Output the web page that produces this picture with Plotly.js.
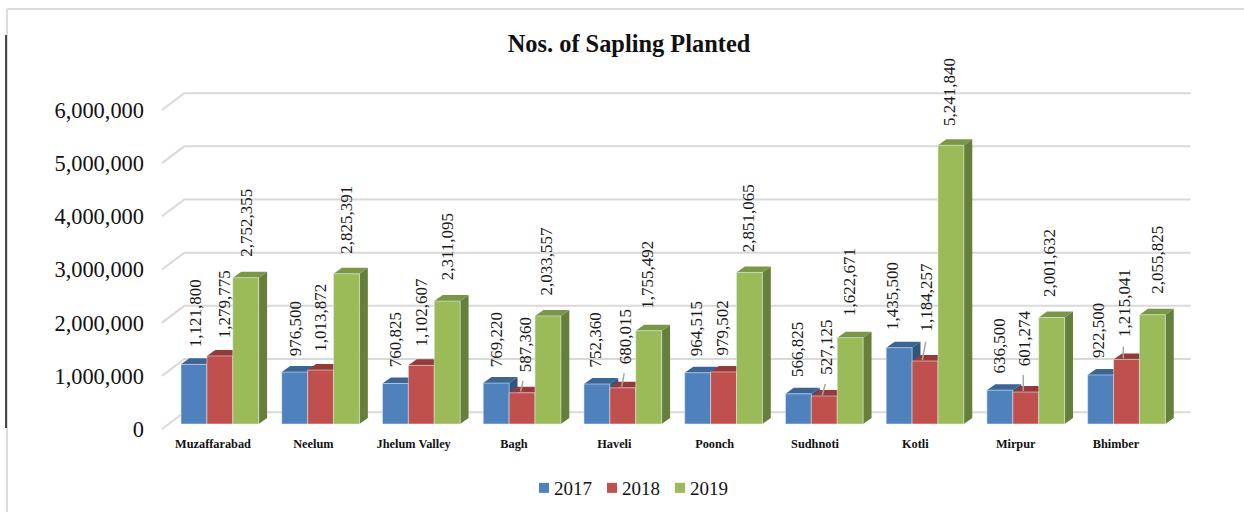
<!DOCTYPE html>
<html><head><meta charset="utf-8">
<script src="https://cdn.plot.ly/plotly-3.0.1.min.js"></script>
<style>html,body{margin:0;padding:0;background:#fff}#c{width:1244px;height:512px}</style>
</head><body><div id="c"></div>
<script>
const categories = ['Muzaffarabad','Neelum','Jhelum Valley','Bagh','Haveli','Poonch','Sudhnoti','Kotli','Mirpur','Bhimber'];
const v2017 = [1121800,976500,760825,769220,752360,964515,566825,1435500,636500,922500];
const v2018 = [1279775,1013872,1102607,587360,680015,979502,527125,1184257,601274,1215041];
const v2019 = [2752355,2825391,2311095,2033557,1755492,2851065,1622671,5241840,2001632,2055825];
const seriesNames = ['2017','2018','2019'];
const yTicks = [0,1000000,2000000,3000000,4000000,5000000,6000000];
const yTickText = ['0','1,000,000','2,000,000','3,000,000','4,000,000','5,000,000','6,000,000'];

// label nudges in px, [right, up] from each bar's top centre, per series
const nudge2017 = [[1,16],[0.3,15.4],[0.3,15.5],[-0.2,15.4],[-1,16],[-1,15.7],[-1.1,15.6],[-6.8,17],[-0.9,16.2],[-2.3,15.7]];
const nudge2018 = [[4.2,16.7],[0.4,17.4],[-0.3,17.4],[2.9,20.1],[2.8,22.8],[-1.3,15.2],[1.4,20.3],[1.7,28.7],[-1.8,24.7],[-2.2,21.7]];
const nudge2019 = [[1,19.7],[0.2,18.8],[-0.2,19.4],[-1,19.9],[-0.8,20.7],[-1.2,19.4],[-0.9,21],[-1.6,18.6],[-2.4,19.9],[5.3,19.7]];
// leader lines on 2018 labels: group, top [dx,up], foot [dx,up]
const leaders = [[3,0.9,11.8,-1.4,1.1],[4,1.4,14.5,-1.2,1.1],[6,1,12,-2,1],[7,0.7,19.3,-2.7,1],[8,-2.5,17,-2.5,1],[9,-3.2,12.7,-3.2,1.1]];

const front = ['#4f81bd','#c0504d','#9bbb59'];
const topC  = ['#3b6594','#953a38','#7a9747'];
const sideC = ['#30557f','#7f302e','#667f3a'];
const values = [v2017,v2018,v2019];
const nudges = [nudge2017,nudge2018,nudge2019];

const PX_X = 100.74, PX_Y = 53.17e-6;
const ux = p => p/PX_X, uy = p => p/PX_Y;
const barW = 25.9;
const mL = 148, mT = 20, plotW = 1052, plotH = 410;
const cx = (g,s) => g + ux(barW*(s-1));
const fmt = v => v.toLocaleString('en-US');

const shapes = [];
// floor/back wall gridlines
const gx0 = ux(162-219.85), gx1 = ux(184.3-219.85), gx2 = ux(1190.7-219.85);
yTicks.forEach(t=>{
  shapes.push({type:'path',xref:'x',yref:'y',layer:'below',
    path:`M${gx0},${t}L${gx1},${t+uy(16.8)}L${gx2},${t+uy(16.8)}`,
    line:{color:'#d9d9d9',width:2},fillcolor:'rgba(0,0,0,0)'});
});
// 3-D faces
const dX = ux(8.4), dY = uy(6), hw = ux(barW/2);
categories.forEach((c,g)=>{
  values.forEach((vals,s)=>{
    const v = vals[g], l = cx(g,s)-hw, r = cx(g,s)+hw;
    shapes.push({type:'path',xref:'x',yref:'y2',layer:'below',line:{width:0},fillcolor:sideC[s],
      path:`M${r},0L${r+dX},${dY}L${r+dX},${v+dY}L${r},${v}Z`});
    shapes.push({type:'path',xref:'x',yref:'y2',layer:'below',line:{width:0},fillcolor:topC[s],
      path:`M${l},${v}L${l+dX},${v+dY}L${r+dX},${v+dY}L${r},${v}Z`});
  });
});
leaders.forEach(a=>{
  const g=a[0], v=v2018[g], c=cx(g,1);
  shapes.push({type:'line',xref:'x',yref:'y2',layer:'above',line:{color:'#a6a6a6',width:1.5},
    x0:c+ux(a[1]),y0:v+uy(a[2]),x1:c+ux(a[3]),y1:v+uy(a[4])});
});
// chart frame
const fx = p => (p-mL)/plotW, fy = p => (mT+plotH-p)/plotH;
const frame = (x0,y0,x1,y1,color,w)=>shapes.push({type:'line',xref:'paper',yref:'paper',layer:'above',
  x0:fx(x0),y0:fy(y0),x1:fx(x1),y1:fy(y1),line:{color:color,width:w}});
frame(7,9,1244,9,'#dcdcdc',2);
frame(7,9,7,512,'#dcdcdc',2);
frame(6,35,6,428,'#000000',1.4);

const annotations = [];
values.forEach((vals,s)=>vals.forEach((v,g)=>{
  annotations.push({x:cx(g,s),y:v,xref:'x',yref:'y2',text:fmt(v),showarrow:false,textangle:-90,
    xanchor:'center',yanchor:'bottom',xshift:nudges[s][g][0],yshift:nudges[s][g][1],borderpad:0,
    font:{family:'Liberation Serif',size:17,color:'#1a1a1a'}});
}));

const traces = values.map((vals,s)=>({
  type:'bar',name:seriesNames[s],x:categories.map((c,i)=>i),y:vals,yaxis:'y2',
  marker:{color:front[s],line:{color:'rgba(225,235,240,0.55)',width:1}},hoverinfo:'skip'
}));

const layout = {
  width:1244,height:512,paper_bgcolor:'#fff',plot_bgcolor:'rgba(0,0,0,0)',
  margin:{l:mL,r:44,t:mT,b:82,autoexpand:false},
  barmode:'group',bargap:0.229,bargroupgap:0,
  title:{text:'<b>Nos. of Sapling Planted</b>',x:629/1244,xanchor:'center',y:1-43/512,yanchor:'middle',
    font:{family:'Liberation Serif',size:24.4,color:'#111'}},
  xaxis:{type:'linear',range:[ux(mL-219.85),ux(1200-219.85)],showgrid:false,zeroline:false,showline:false,ticks:'',
    tickmode:'array',tickvals:categories.map((c,i)=>i*0.996-0.068),ticktext:categories,ticklabelstandoff:5,
    tickfont:{family:'Liberation Serif',size:12.3,color:'#111',weight:700}},
  yaxis:{range:[-18815,7692308],showgrid:false,zeroline:false,showline:false,ticks:'',
    tickmode:'array',tickvals:yTicks,ticktext:yTickText,ticklabelstandoff:3,
    tickfont:{family:'Liberation Serif',size:22.4,color:'#111'}},
  yaxis2:{range:[-112845,7598270],overlaying:'y',visible:false,fixedrange:true},
  legend:{orientation:'h',xref:'container',yref:'container',x:524/1244,y:24/512,yanchor:'middle',xanchor:'left',
    entrywidth:23,entrywidthmode:'pixels',font:{family:'Liberation Serif',size:19,color:'#111'},traceorder:'normal'},
  shapes:shapes,annotations:annotations,showlegend:true
};
Plotly.newPlot('c',traces,layout,{displayModeBar:false,staticPlot:true}).then(gd=>{
  // tighten the legend: smaller swatches, text closer to them
  gd.querySelectorAll('.legend .legendpoints path').forEach(p=>{p.setAttribute('d','M5,5H-5V-5H5Z');p.style.strokeWidth='0';});
  gd.querySelectorAll('.legend .legendtext').forEach(t=>t.setAttribute('x','30'));
  gd.querySelectorAll('.legend .scrollbox').forEach(b=>b.removeAttribute('clip-path'));
});
</script></body></html>
